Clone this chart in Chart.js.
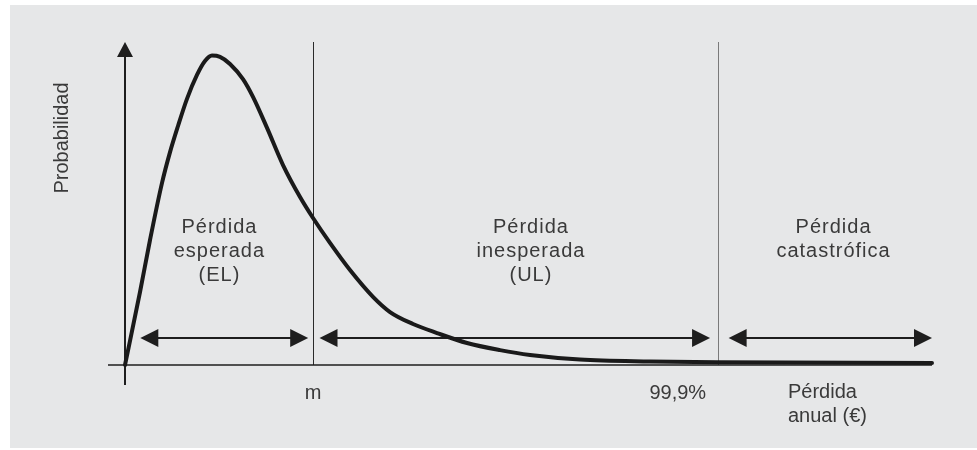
<!DOCTYPE html>
<html lang="es">
<head>
    <meta charset="UTF-8">
    <title>Distribución de pérdidas</title>
    <script src="https://cdn.jsdelivr.net/npm/chart.js"></script>
</head>
<style>
    body { margin: 0; background: #ffffff; }
    #lossChart { display: block; }
</style>
<body>
    <canvas id="lossChart" width="977" height="450"></canvas>

    <script>
        // loss (arbitrary units, 0-100) and probability (0-100)
        var lossX = [0, 1.86, 3.10, 4.58, 5.58, 6.57, 7.68, 8.92, 9.91, 10.78, 11.77, 13.01, 14.62, 15.86, 17.60, 19.58, 21.69, 23.30, 25.40, 27.88, 30.73, 32.84, 35.69, 38.66, 42.38, 46.47, 50.19, 56.38, 65.06, 73.36, 100];
        var probY = [0, 22.6, 38.7, 56.3, 65.9, 74.0, 82.4, 89.8, 94.1, 95.8, 95.4, 93.2, 88.5, 83.0, 73.4, 61.9, 52.0, 45.5, 37.8, 29.4, 21.1, 16.4, 12.7, 9.9, 6.8, 4.6, 3.1, 1.7, 1.1, 0.84, 0.62];

        // m (expected loss) and 99,9% quantile
        var markerX = [23.3, 73.5];
        var markerLabels = ['m', '99,9%'];

        // double arrows marking each zone
        var arrowFrom = [1.9, 24.1, 74.8];
        var arrowTo = [22.7, 72.5, 100];
        var arrowY = 8.4;

        var zoneCenters = [11.7, 50.3, 87.8];
        var zoneLabels = [
            ['Pérdida', 'esperada', '(EL)'],
            ['Pérdida', 'inesperada', '(UL)'],
            ['Pérdida', 'catastrófica']
        ];
        var yTitle = 'Probabilidad';
        var xTitle = ['Pérdida', 'anual (€)'];

        var points = lossX.map(function(x, i) { return { x: x, y: probY[i] }; });

        function arrowHead(ctx, x, y, dir) {
            ctx.beginPath();
            ctx.moveTo(x, y);
            ctx.lineTo(x - dir * 18, y - 9);
            ctx.lineTo(x - dir * 18, y + 9);
            ctx.closePath();
            ctx.fill();
        }

        var backgroundPanel = {
            id: 'backgroundPanel',
            beforeDraw: function(chart) {
                var ctx = chart.ctx;
                ctx.save();
                ctx.fillStyle = '#e6e7e8';
                ctx.fillRect(10, 5, 967, 443);
                ctx.restore();
            }
        };

        var diagram = {
            id: 'diagram',
            beforeDatasetsDraw: function(chart) {
                var ctx = chart.ctx;
                var xs = chart.scales.x, ys = chart.scales.y;
                var x0 = xs.getPixelForValue(0), y0 = ys.getPixelForValue(0);
                var top = chart.chartArea.top;
                ctx.save();

                // vertical marker lines
                ctx.lineWidth = 1;
                ctx.strokeStyle = '#2a2a2a';
                ctx.beginPath();
                ctx.moveTo(Math.round(xs.getPixelForValue(markerX[0])) + 0.5, top);
                ctx.lineTo(Math.round(xs.getPixelForValue(markerX[0])) + 0.5, y0);
                ctx.stroke();
                ctx.strokeStyle = '#7a7a7a';
                ctx.beginPath();
                ctx.moveTo(Math.round(xs.getPixelForValue(markerX[1])) + 0.5, top);
                ctx.lineTo(Math.round(xs.getPixelForValue(markerX[1])) + 0.5, y0);
                ctx.stroke();

                // x axis
                ctx.strokeStyle = '#1e1e1e';
                ctx.lineWidth = 1.5;
                ctx.beginPath();
                ctx.moveTo(x0 - 17, y0);
                ctx.lineTo(xs.getPixelForValue(100), y0);
                ctx.stroke();

                // y axis with arrow
                ctx.lineWidth = 2;
                ctx.beginPath();
                ctx.moveTo(x0, y0 + 20);
                ctx.lineTo(x0, top + 12);
                ctx.stroke();
                ctx.fillStyle = '#1e1e1e';
                ctx.beginPath();
                ctx.moveTo(x0, top);
                ctx.lineTo(x0 - 8, top + 15);
                ctx.lineTo(x0 + 8, top + 15);
                ctx.closePath();
                ctx.fill();

                // zone arrows
                var ay = Math.round(ys.getPixelForValue(arrowY));
                ctx.lineWidth = 2;
                for (var i = 0; i < arrowFrom.length; i++) {
                    var a = xs.getPixelForValue(arrowFrom[i]);
                    var b = xs.getPixelForValue(arrowTo[i]);
                    ctx.beginPath();
                    ctx.moveTo(a + 10, ay);
                    ctx.lineTo(b - 10, ay);
                    ctx.stroke();
                    arrowHead(ctx, a, ay, -1);
                    arrowHead(ctx, b, ay, 1);
                }

                // texts
                ctx.fillStyle = '#3a3a3a';
                ctx.font = '20px "Liberation Sans", Arial, sans-serif';
                ctx.textBaseline = 'alphabetic';

                ctx.textAlign = 'center';
                ctx.fillText(markerLabels[0], xs.getPixelForValue(markerX[0]), 399);
                ctx.textAlign = 'right';
                ctx.fillText(markerLabels[1], xs.getPixelForValue(markerX[1]) - 12, 399);
                ctx.textAlign = 'left';
                ctx.fillText(xTitle[0], 788, 398);
                ctx.fillText(xTitle[1], 788, 422);

                ctx.save();
                ctx.translate(68, 138);
                ctx.rotate(-Math.PI / 2);
                ctx.textAlign = 'center';
                ctx.fillText(yTitle, 0, 0);
                ctx.restore();

                ctx.textAlign = 'center';
                ctx.letterSpacing = '1px';
                for (var j = 0; j < zoneLabels.length; j++) {
                    var cx = xs.getPixelForValue(zoneCenters[j]);
                    for (var k = 0; k < zoneLabels[j].length; k++) {
                        ctx.fillText(zoneLabels[j][k], cx, 233 + k * 24);
                    }
                }
                ctx.restore();
            }
        };

        var ctx = document.getElementById('lossChart').getContext('2d');
        var lossChart = new Chart(ctx, {
            type: 'line',
            data: {
                datasets: [{
                    label: 'Probabilidad',
                    data: points,
                    borderColor: '#1a1a1a',
                    borderWidth: 4,
                    borderCapStyle: 'round',
                    borderJoinStyle: 'round',
                    pointRadius: 0,
                    fill: false,
                    cubicInterpolationMode: 'monotone',
                    clip: false
                }]
            },
            options: {
                responsive: false,
                animation: false,
                devicePixelRatio: 1,
                layout: {
                    padding: { left: 125, right: 45, top: 42, bottom: 85 }
                },
                plugins: {
                    legend: { display: false },
                    tooltip: { enabled: false }
                },
                scales: {
                    x: { type: 'linear', min: 0, max: 100, display: false },
                    y: { min: 0, max: 100, display: false }
                }
            },
            plugins: [backgroundPanel, diagram]
        });
    </script>
</body>
</html>
